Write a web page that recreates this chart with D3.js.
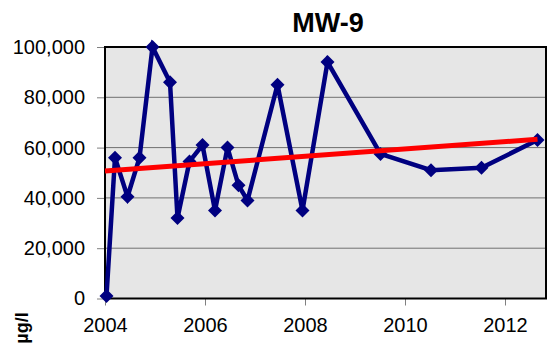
<!DOCTYPE html>
<html>
<head>
<meta charset="utf-8">
<script src="https://cdn.jsdelivr.net/npm/d3@7"></script>
<style>
  html, body { margin: 0; padding: 0; background: #fff; }
  svg { display: block; font-family: Arial, "Liberation Sans", sans-serif; }
</style>
</head>
<body>
<svg id="chart" width="548" height="354"></svg>
<script>
// Sample dates as decimal years, concentrations in µg/l
const years = [2004.03, 2004.2, 2004.45, 2004.69, 2004.95, 2005.3, 2005.45, 2005.69, 2005.95,
  2006.2, 2006.45, 2006.67, 2006.85, 2007.45, 2007.95, 2008.45, 2009.51, 2010.52, 2011.53, 2012.65];
const values = [1000, 56000, 40500, 56000, 100000, 86000, 32000, 54500, 61000,
  35000, 60000, 45000, 39000, 85000, 35000, 94000, 57500, 51000, 52000, 63000];
// Trend line end values
const trendYears = [2004.0, 2012.65];
const trendValues = [50700, 63300];
const yTicks = [0, 20000, 40000, 60000, 80000, 100000];
const xTicks = [2004, 2006, 2008, 2010, 2012];
const title = "MW-9";
const unitLabel = "µg/l";

const svg = d3.select("#chart");
const pLeft = 105, pRight = 546, pTop = 47, pBottom = 298.5;

const x = d3.scaleLinear().domain([2004, 2012.82]).range([pLeft, pRight]);
const y = d3.scaleLinear().domain([0, 100000]).range([pBottom, pTop]);

// plot background
svg.append("rect").attr("x", pLeft).attr("y", pTop)
  .attr("width", pRight - pLeft).attr("height", pBottom - pTop)
  .attr("fill", "#e6e6e6");

// gridlines
svg.append("g").selectAll("line").data(yTicks.filter(d => d > 0 && d < 100000)).join("line")
  .attr("x1", pLeft).attr("x2", pRight)
  .attr("y1", d => y(d)).attr("y2", d => y(d))
  .attr("stroke", "#707070").attr("stroke-width", 1);

// axes
const yAxis = svg.append("g").attr("transform", `translate(${pLeft},0)`)
  .call(d3.axisLeft(y).tickValues(yTicks).tickSize(8).tickPadding(12).tickFormat(d3.format(",")));
const xAxis = svg.append("g").attr("transform", `translate(0,${pBottom})`)
  .call(d3.axisBottom(x).tickValues(xTicks).tickSize(7).tickPadding(12).tickFormat(d3.format("d")));
[yAxis, xAxis].forEach(g => {
  g.select(".domain").remove();
  g.selectAll(".tick line").attr("stroke", "#808080");
  g.selectAll(".tick text").attr("font-size", 20).attr("fill", "#000")
    .attr("font-family", "Arial, 'Liberation Sans', sans-serif");
});

// border
svg.append("rect").attr("x", pLeft).attr("y", pTop)
  .attr("width", pRight - pLeft).attr("height", pBottom - pTop)
  .attr("fill", "none").attr("stroke", "#000").attr("stroke-width", 2);

// data line
const pts = years.map((d, i) => [d, values[i]]);
const line = d3.line().x(d => x(d[0])).y(d => y(d[1]));
svg.append("path").datum(pts).attr("d", line)
  .attr("fill", "none").attr("stroke", "#000080").attr("stroke-width", 4.5)
  .attr("stroke-linejoin", "miter");

// markers
svg.append("g").selectAll("path").data(pts).join("path")
  .attr("transform", d => `translate(${x(d[0])},${y(d[1])})`)
  .attr("d", "M0,-7L7,0L0,7L-7,0Z")
  .attr("fill", "#000080");

// trend line
const tpts = trendYears.map((d, i) => [d, trendValues[i]]);
svg.append("path").datum(tpts).attr("d", line)
  .attr("fill", "none").attr("stroke", "#ff0000").attr("stroke-width", 5);

// title
svg.append("text").attr("x", 328).attr("y", 31.5).attr("text-anchor", "middle")
  .attr("font-size", 27).attr("font-weight", "bold").text(title);

// unit label
svg.append("text").attr("transform", "translate(28,328) rotate(-90)")
  .attr("text-anchor", "middle").attr("font-size", 18).attr("font-weight", "bold")
  .text(unitLabel);
</script>
</body>
</html>
